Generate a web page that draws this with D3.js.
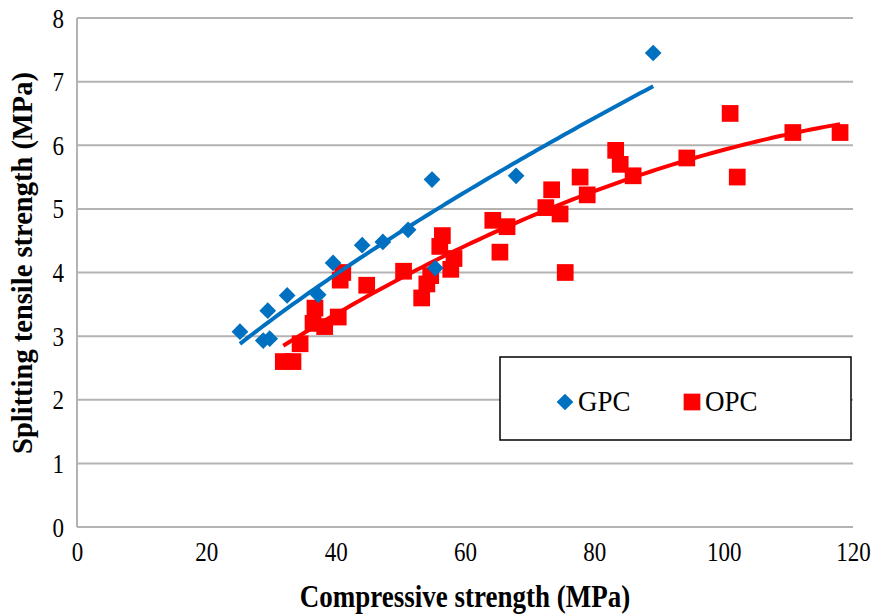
<!DOCTYPE html>
<html>
<head>
<meta charset="utf-8">
<script src="https://cdn.jsdelivr.net/npm/d3@7"></script>
<style>
  body { margin: 0; background: #fff; }
  svg text { font-family: "Liberation Serif", "Times New Roman", serif; fill: #000; }
</style>
</head>
<body>
<div id="chart"></div>
<script>
// data
const gpcX = [25.2, 28.8, 29.8, 29.5, 32.5, 37.3, 39.6, 44.1, 47.3, 51.2, 54.9, 55.4, 67.9, 89.1];
const gpcY = [3.07, 2.93, 2.96, 3.40, 3.64, 3.65, 4.15, 4.43, 4.48, 4.67, 5.46, 4.07, 5.52, 7.45];

const opcX = [31.9, 33.4, 34.5, 36.5, 36.8, 38.3, 40.4, 40.7, 41.1, 44.8, 50.5, 53.3, 54.1, 54.7,
              56.1, 56.5, 57.8, 58.3, 64.3, 65.4, 66.5, 72.5, 73.4, 74.7, 75.5, 77.8, 78.9,
              83.3, 84.0, 86.0, 94.3, 101.0, 102.1, 110.7, 118.0];
const opcY = [2.60, 2.60, 2.88, 3.20, 3.44, 3.15, 3.30, 3.88, 4.00, 3.80, 4.02, 3.60, 3.82, 3.95,
              4.41, 4.58, 4.05, 4.22, 4.82, 4.32, 4.72, 5.02, 5.30, 4.92, 4.00, 5.50, 5.22,
              5.92, 5.70, 5.52, 5.80, 6.50, 5.50, 6.20, 6.20];

const xTicks = [0, 20, 40, 60, 80, 100, 120];
const yTicks = [0, 1, 2, 3, 4, 5, 6, 7, 8];

const W = 873, H = 615;
const margin = {top: 18, right: 20, bottom: 88, left: 77};
const width = 853 - margin.left;
const height = 527 - margin.top;
const serif = "'Liberation Serif', 'Times New Roman', serif";

const svg = d3.select("#chart").append("svg")
    .attr("width", W).attr("height", H);
const g = svg.append("g").attr("transform", `translate(${margin.left},${margin.top})`);

const x = d3.scaleLinear().domain([0, 120]).range([0, width]);
const y = d3.scaleLinear().domain([0, 8]).range([height, 0]);

// gridlines
g.append("g").selectAll("line").data(yTicks).join("line")
    .attr("x1", 0).attr("x2", width)
    .attr("y1", d => y(d)).attr("y2", d => y(d))
    .attr("stroke", "#b3b3b3").attr("stroke-width", 2);
g.append("line").attr("x1", 0).attr("x2", 0).attr("y1", 0).attr("y2", height)
    .attr("stroke", "#b3b3b3").attr("stroke-width", 2);

// tick labels (the source font is a bit tall, so stretch vertically)
const xAxis = g.append("g").attr("transform", `translate(0,${height})`)
    .call(d3.axisBottom(x).tickValues(xTicks).tickSize(0));
const yAxis = g.append("g")
    .call(d3.axisLeft(y).tickValues(yTicks).tickSize(0));
[xAxis, yAxis].forEach(a => {
  a.attr("font-family", serif).attr("font-size", 23);
  a.select(".domain").remove();
});
xAxis.selectAll(".tick text")
    .attr("y", 0).attr("dy", null)
    .attr("transform", "translate(0,34) scale(1,1.22)");
yAxis.selectAll(".tick text")
    .attr("x", 0).attr("dy", null)
    .attr("transform", "translate(-13,9) scale(1,1.22)");

// axis titles
svg.append("text").attr("transform", "translate(465,607) scale(1,1.2)").attr("text-anchor", "middle")
    .attr("font-family", serif).attr("font-size", 27).attr("font-weight", "bold")
    .text("Compressive strength (MPa)");
svg.append("text").attr("transform", "translate(32,263) rotate(-90)").attr("text-anchor", "middle")
    .attr("font-family", serif).attr("font-size", 28.5).attr("font-weight", "bold")
    .text("Splitting tensile strength (MPa)");

// trendlines: power fit for GPC, 2nd order polynomial for OPC
function powerFit(xs, ys) {
  const lx = xs.map(Math.log), ly = ys.map(Math.log);
  const mx = d3.mean(lx), my = d3.mean(ly);
  const b = d3.sum(lx, (v, i) => (v - mx) * (ly[i] - my)) / d3.sum(lx, v => (v - mx) ** 2);
  const a = Math.exp(my - b * mx);
  return v => a * Math.pow(v, b);
}
function polyFit2(xs, ys) {
  const n = xs.length;
  const s = k => d3.sum(xs, v => v ** k);
  const t = k => d3.sum(xs, (v, i) => v ** k * ys[i]);
  const M = [[n, s(1), s(2)], [s(1), s(2), s(3)], [s(2), s(3), s(4)]];
  const r = [t(0), t(1), t(2)];
  // gaussian elimination
  for (let i = 0; i < 3; i++) {
    for (let j = i + 1; j < 3; j++) {
      const f = M[j][i] / M[i][i];
      for (let k = i; k < 3; k++) M[j][k] -= f * M[i][k];
      r[j] -= f * r[i];
    }
  }
  const c = [0, 0, 0];
  for (let i = 2; i >= 0; i--) {
    let v = r[i];
    for (let k = i + 1; k < 3; k++) v -= M[i][k] * c[k];
    c[i] = v / M[i][i];
  }
  return v => c[0] + c[1] * v + c[2] * v * v;
}

const line = d3.line().x(d => x(d[0])).y(d => y(d[1]));
function trend(xs, ys, fit, color) {
  const f = fit(xs, ys);
  const pts = d3.range(0, 101).map(i => {
    const v = d3.min(xs) + (d3.max(xs) - d3.min(xs)) * i / 100;
    return [v, f(v)];
  });
  g.append("path").datum(pts).attr("d", line)
      .attr("fill", "none").attr("stroke", color).attr("stroke-width", 4);
}

const blue = "#0070c0", red = "#ff0000";
const diamond = d3.symbol().type(d3.symbolSquare).size(140);
const square = d3.symbol().type(d3.symbolSquare).size(280);

// OPC squares
g.append("g").selectAll("path").data(opcX).join("path")
    .attr("d", square)
    .attr("transform", (d, i) => `translate(${x(d)},${y(opcY[i])})`)
    .attr("fill", red);
trend(opcX, opcY, polyFit2, red);

// GPC diamonds
g.append("g").selectAll("path").data(gpcX).join("path")
    .attr("d", diamond)
    .attr("transform", (d, i) => `translate(${x(d)},${y(gpcY[i])}) rotate(45)`)
    .attr("fill", blue);
trend(gpcX, gpcY, powerFit, blue);

// legend
const lg = svg.append("g");
lg.append("rect").attr("x", 500).attr("y", 357).attr("width", 351).attr("height", 83)
    .attr("fill", "#fff").attr("stroke", "#000").attr("stroke-width", 1.5);
lg.append("path").attr("d", diamond).attr("transform", "translate(565,402) rotate(45)").attr("fill", blue);
lg.append("text").attr("transform", "translate(578,411) scale(1,1.1)").attr("font-family", serif).attr("font-size", 27).text("GPC");
lg.append("path").attr("d", square).attr("transform", "translate(692,402)").attr("fill", red);
lg.append("text").attr("transform", "translate(705,411) scale(1,1.1)").attr("font-family", serif).attr("font-size", 27).text("OPC");
</script>
</body>
</html>
